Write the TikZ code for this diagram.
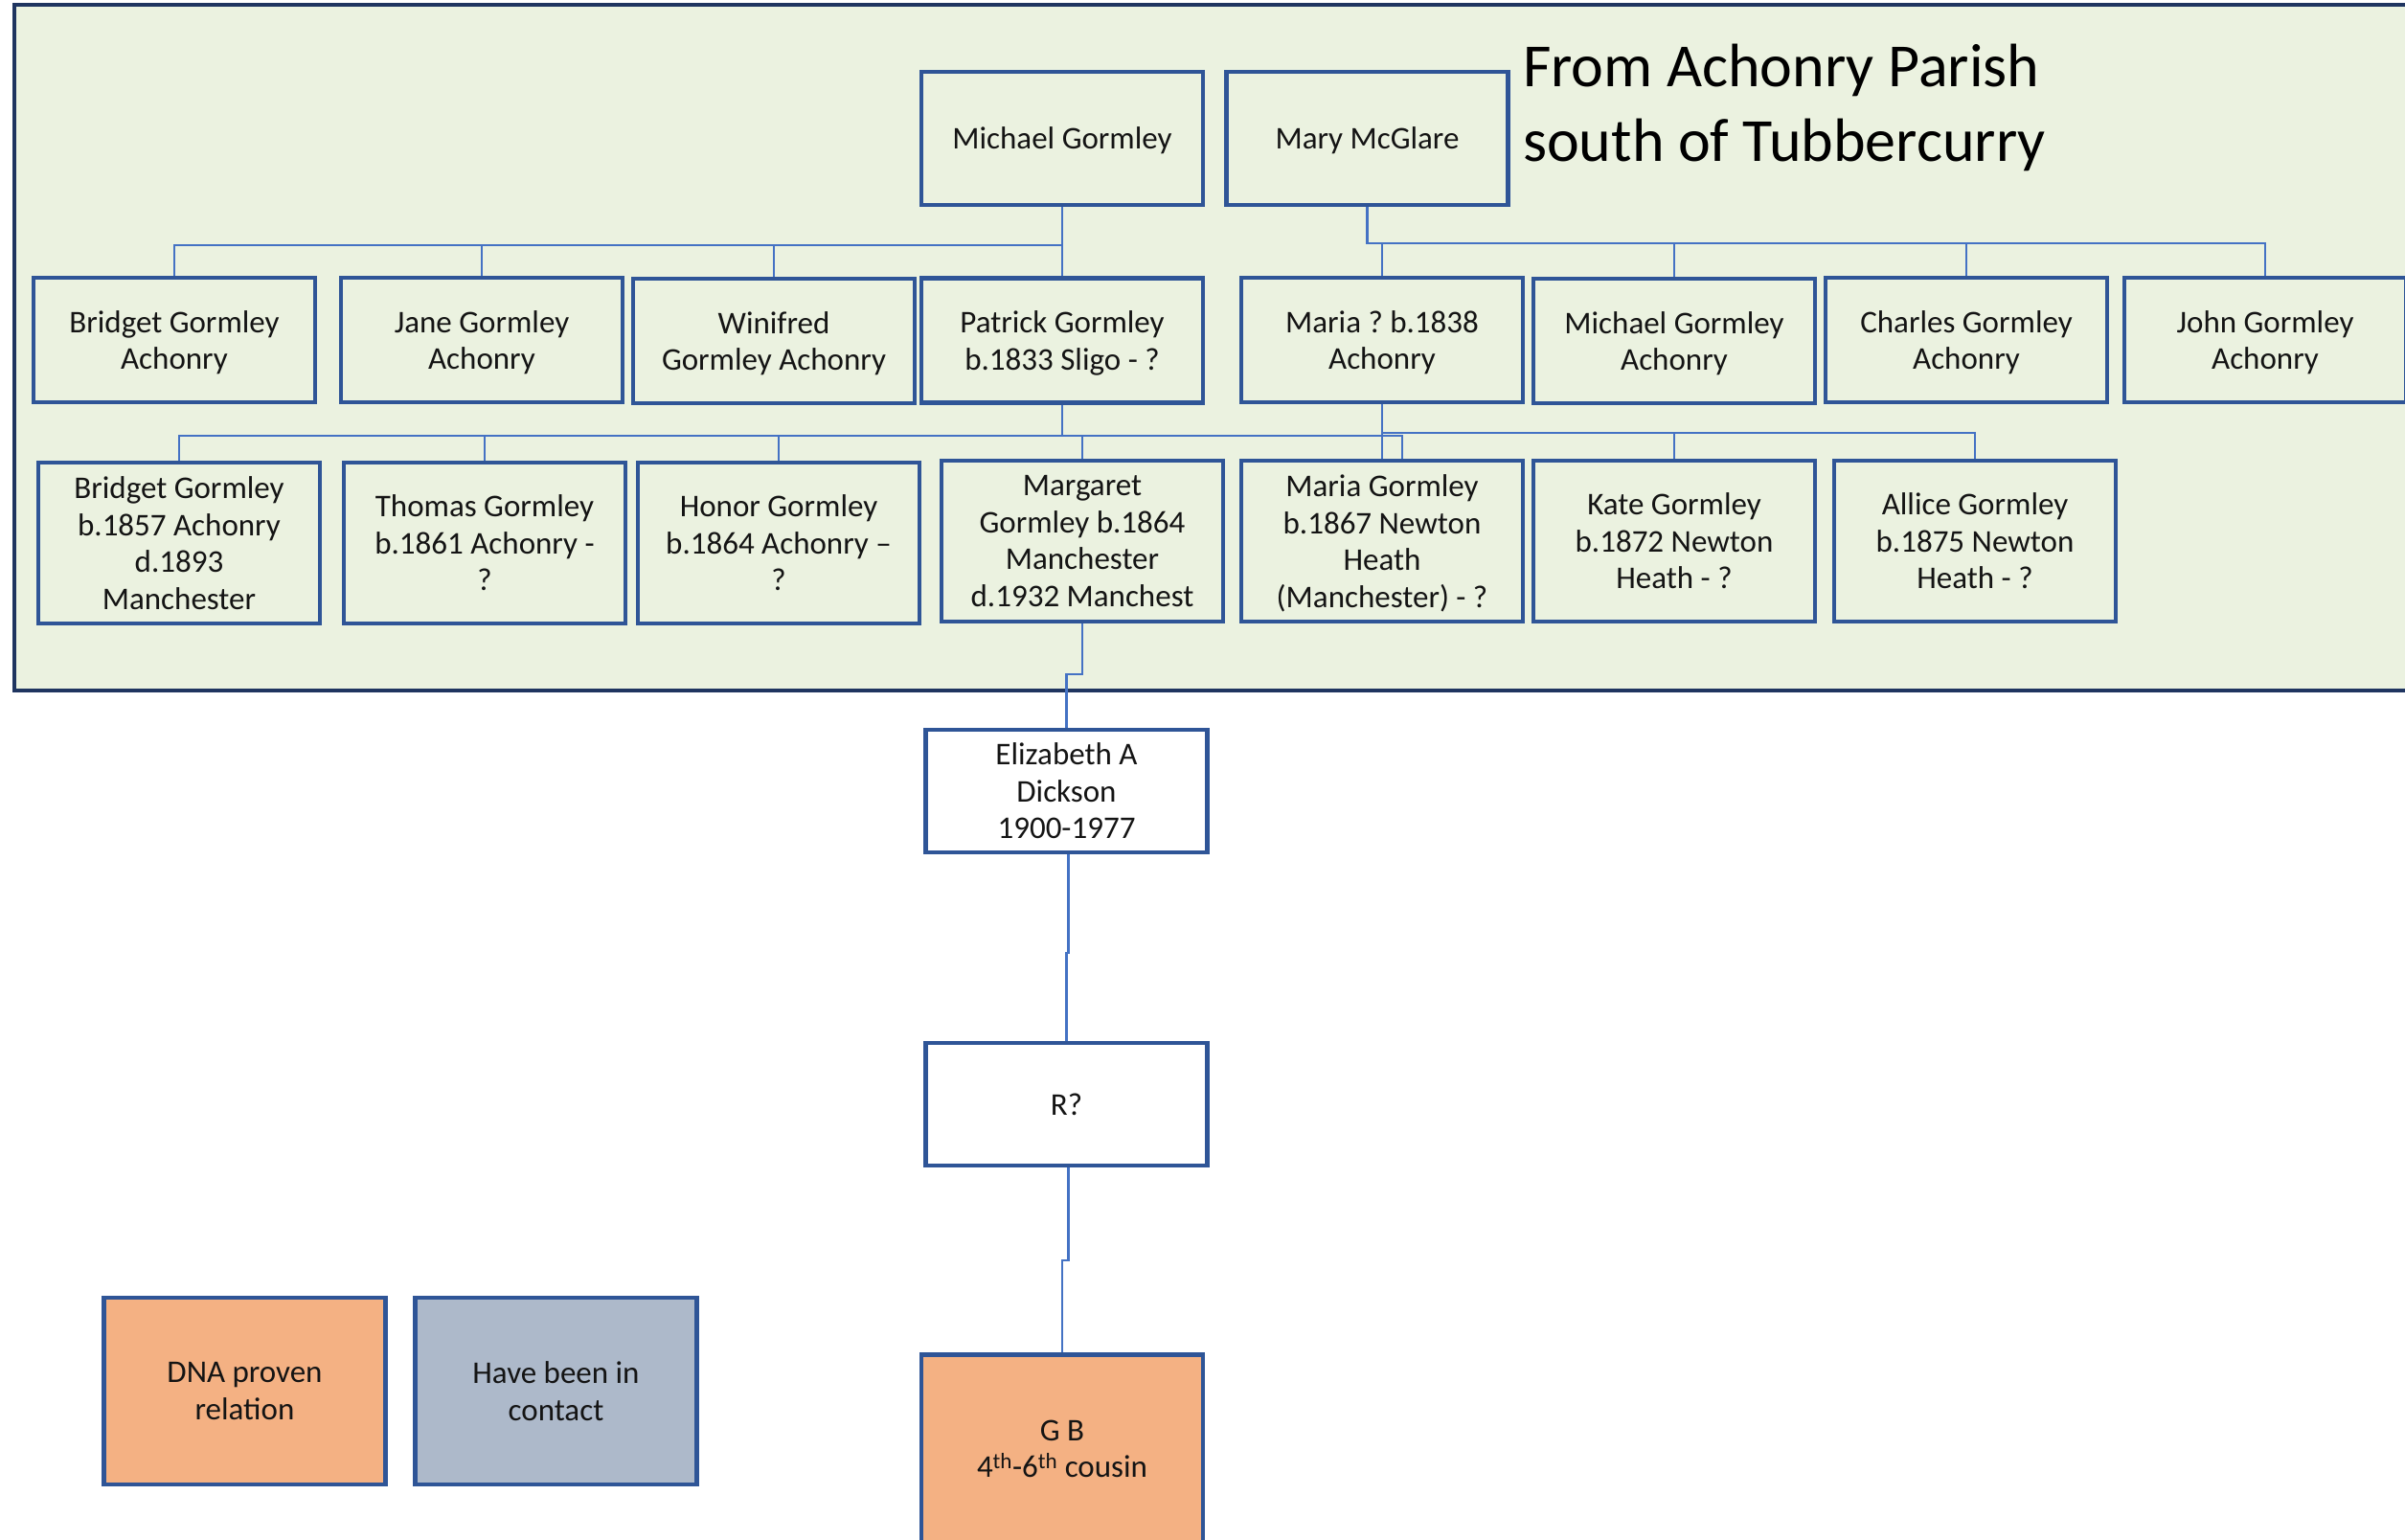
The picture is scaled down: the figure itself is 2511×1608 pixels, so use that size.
\documentclass[tikz,border=0pt]{standalone}
\usepackage{fontspec}
\setmainfont{Carlito}
\definecolor{bggreen}{HTML}{EBF2E0}
\definecolor{frame}{HTML}{1F3560}
\definecolor{boxblue}{HTML}{2F5597}
\definecolor{connblue}{HTML}{4472C4}
\definecolor{orangefill}{HTML}{F4B183}
\definecolor{greyfill}{HTML}{ADB9CA}
\definecolor{txt}{HTML}{141414}
\tikzset{
  pbox/.style={draw=boxblue, line width=4.5pt, minimum width=294pt, inner sep=2pt,
    align=center, text=txt, font=\fontsize{33}{38.5}\selectfont\frenchspacing,
    text depth=0pt},
  gbox/.style={pbox, fill=bggreen},
  wbox/.style={pbox, fill=white},
  conn/.style={draw=connblue, line width=2.2pt},
  titletext/.style={anchor=base west, inner sep=0pt, text=black, font=\fontsize{64}{78}\selectfont}
}
\begin{document}
\begin{tikzpicture}[x=1pt,y=-1pt]
\useasboundingbox (0,0) rectangle (2511,1608);
\fill[white] (0,0) rectangle (2511,1608);
% green panel
\draw[fill=bggreen, draw=frame, line width=4pt] (15,5) rectangle (2545,721);

% title
\node[titletext] (t1) at (1590,91) {From Achonry Parish};
\node[titletext] (t2) at (1590,169) {south of Tubbercurry};

% generation 0
\node[gbox, minimum height=139pt] (mg) at (1109,144.5) {Michael Gormley};
\node[gbox, minimum height=139pt] (mm) at (1427.5,144.5) {Mary McGlare};

% generation 1
\node[gbox, minimum height=130pt] (bg1) at (182,355) {Bridget Gormley\\Achonry};
\node[gbox, minimum height=130pt] (jg) at (503,355) {Jane Gormley\\Achonry};
\node[gbox, minimum height=130pt] (wg) at (808,356) {Winifred\\Gormley Achonry};
\node[gbox, minimum height=130pt] (pg) at (1109,355.5) {Patrick Gormley\\b.1833 Sligo - ?};
\node[gbox, minimum height=130pt] (mq) at (1443,355) {Maria ? b.1838\\Achonry};
\node[gbox, minimum height=130pt] (mg2) at (1748,356) {Michael Gormley\\Achonry};
\node[gbox, minimum height=130pt] (cg) at (2053,355) {Charles Gormley\\Achonry};
\node[gbox, minimum height=130pt] (jo) at (2365,355) {John Gormley\\Achonry};

% generation 2
\node[gbox, minimum height=168pt] (bg2) at (187,567) {Bridget Gormley\\b.1857 Achonry\\d.1893\\Manchester};
\node[gbox, minimum height=168pt] (tg) at (506,567) {Thomas Gormley\\b.1861 Achonry -\\?};
\node[gbox, minimum height=168pt] (hg) at (813,567) {Honor Gormley\\b.1864 Achonry –\\?};
\node[gbox, minimum height=168pt] (mag) at (1130,565) {Margaret\\Gormley b.1864\\Manchester\\d.1932 Manchest};
\node[gbox, minimum height=168pt] (mag2) at (1443,565) {Maria Gormley\\b.1867 Newton\\Heath\\(Manchester) - ?};
\node[gbox, minimum height=168pt] (kg) at (1748,565) {Kate Gormley\\b.1872 Newton\\Heath - ?};
\node[gbox, minimum height=168pt] (ag) at (2062,565) {Allice Gormley\\b.1875 Newton\\Heath - ?};

% descendants
\node[wbox, minimum height=128pt] (eliz) at (1113.5,826) {Elizabeth A\\Dickson\\1900-1977};
\node[wbox, minimum height=128pt] (r) at (1113.5,1153) {R?};
\node[pbox, fill=orangefill, minimum height=197pt] (gb) at (1109,1513) {G B\\4\textsuperscript{th}-6\textsuperscript{th} cousin};

% legend
\node[pbox, fill=orangefill, minimum height=195pt] (dna) at (255.5,1452.5) {DNA proven\\relation};
\node[pbox, fill=greyfill, minimum height=195pt] (hav) at (580.5,1452.5) {Have been in\\contact};

% connectors generation 0 -> 1
\foreach \c in {bg1,jg,wg,pg} \draw[conn] (mg.south) -- ++(0,40) -| (\c.north);
\foreach \c in {mq,mg2,cg,jo} \draw[conn] (mm.south) -- ++(0,38) -| (\c.north);
% generation 1 -> 2
\foreach \c in {bg2,tg,hg,mag} \draw[conn] (pg.south) -- ++(0,32) -| (\c.north);
\draw[conn] (pg.south) -- ++(0,32) -| ([xshift=21pt]mag2.north);
\draw[conn] (mq.south) -- (mag2.north);
\foreach \c in {kg,ag} \draw[conn] (mq.south) -- ++(0,30) -| (\c.north);
% lineage
\draw[conn] (mag.south) -- ++(0,53) -| (eliz.north);
\draw[conn] ([xshift=2pt]eliz.south) -- ++(0,103) -| (r.north);
\draw[conn] ([xshift=2pt]r.south) -- ++(0,97) -| (gb.north);
\end{tikzpicture}
\end{document}
